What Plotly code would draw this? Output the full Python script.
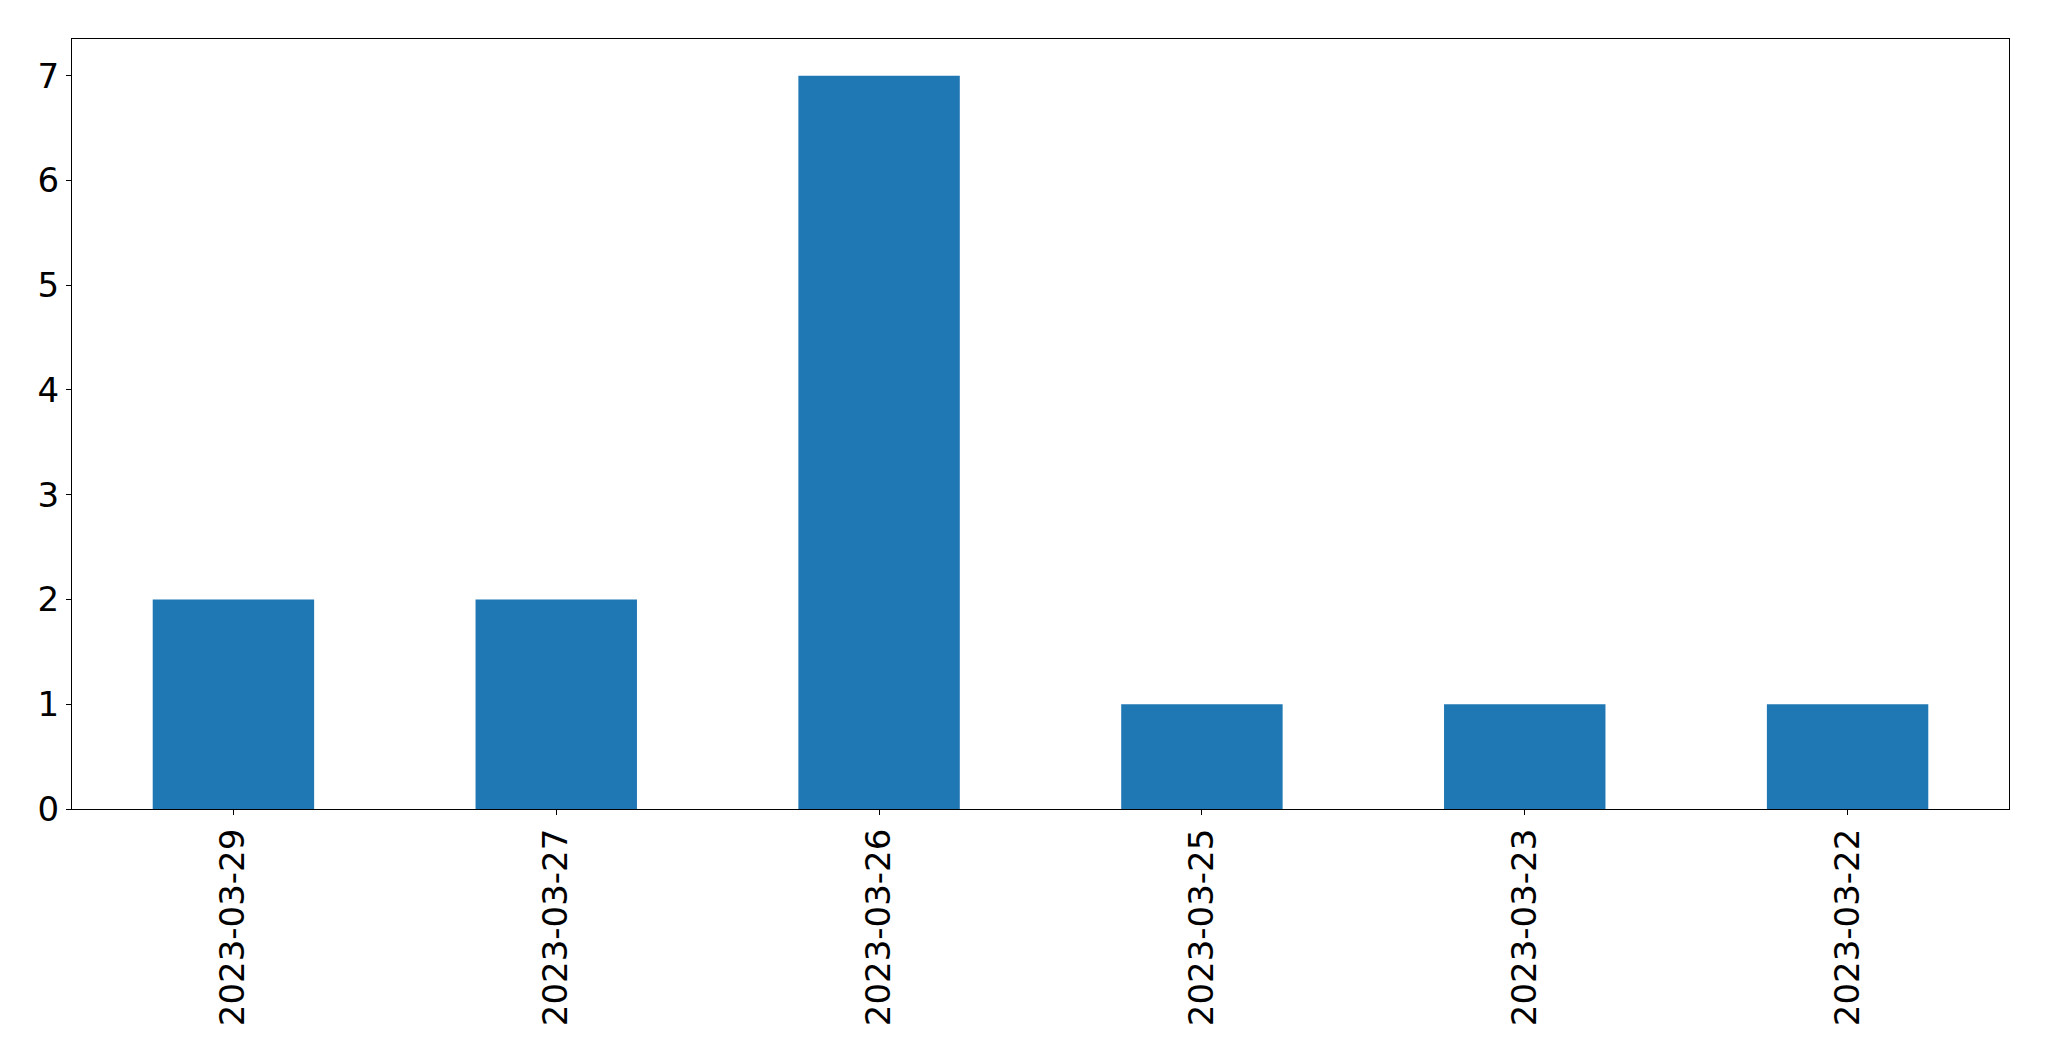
import plotly.graph_objects as go

dates = ["2023-03-29", "2023-03-27", "2023-03-26", "2023-03-25", "2023-03-23", "2023-03-22"]
counts = [2, 2, 7, 1, 1, 1]
y_ticks = [0, 1, 2, 3, 4, 5, 6, 7]

fig = go.Figure(go.Bar(x=dates, y=counts, marker=dict(color="#1f77b4", line=dict(width=0))))

axis_common = dict(
    showgrid=False, zeroline=False, showline=True, linecolor="black", linewidth=1.1,
    mirror=True, ticks="outside", ticklen=5, tickwidth=1.1, tickcolor="black",
    automargin=False,
    tickfont=dict(family="DejaVu Sans", size=34, color="black"),
)

fig.update_layout(
    width=2049, height=1061,
    margin=dict(l=64, r=48, t=31, b=260),
    paper_bgcolor="white", plot_bgcolor="white",
    bargap=0.5, showlegend=False,
    xaxis=dict(type="category", range=[-0.5, 5.5], tickangle=-90, ticklabelstandoff=0, **axis_common),
    yaxis=dict(range=[0, 7.35], tickvals=y_ticks, ticklabelstandoff=0, **axis_common),
)

fig.write_html("out.html")
